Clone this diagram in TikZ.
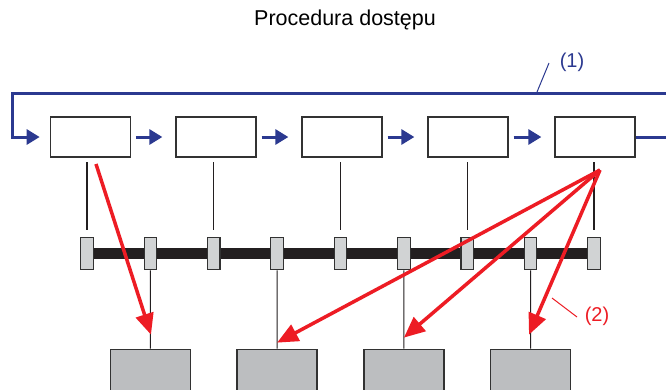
\documentclass[tikz,border=0pt]{standalone}
\usepackage{fontspec}
\setmainfont{Liberation Sans}
\usetikzlibrary{arrows.meta,calc}
\definecolor{pblue}{RGB}{43,57,144}
\definecolor{pred}{RGB}{237,28,36}
\definecolor{pbus}{RGB}{35,31,32}
\definecolor{ptap}{RGB}{209,211,212}
\definecolor{pdev}{RGB}{188,190,192}
\definecolor{pedge}{RGB}{50,50,50}
\tikzset{
  procbox/.style={draw=pedge, line width=1.3pt, fill=white, minimum width=80pt, minimum height=40pt, inner sep=0pt},
  tapbox/.style={draw=pedge, line width=1.1pt, fill=ptap, minimum width=12.5pt, minimum height=32.5pt, inner sep=0pt},
  devbox/.style={draw=pedge, line width=1.3pt, fill=pdev, minimum width=80pt, minimum height=50pt, inner sep=0pt},
  blueline/.style={draw=pblue, line width=3pt},
  bluearrow/.style={draw=pblue, line width=3pt, -{Triangle[length=13pt,width=15pt]}},
  redarrow/.style={draw=pred, line width=3.5pt, -{Triangle[length=21pt,width=18pt]}},
  thinline/.style={draw=pbus, line width=1.1pt},
  lbl/.style={font=\fontsize{20}{24}\selectfont, inner sep=0pt},
}
\begin{document}
\begin{tikzpicture}[x=1pt,y=-1pt]
\useasboundingbox (0,0) rectangle (666,389);
\clip (0,0) rectangle (666,389);
\fill[white] (0,0) rectangle (666,389);
% title
\node[font=\fontsize{21.5}{26}\selectfont, inner sep=0pt] (title) at (345,20) {Procedura dostępu};
% top boxes
\node[procbox] (b1) at (90.3,137) {};
\node[procbox] (b2) at (216,137) {};
\node[procbox] (b3) at (342,137) {};
\node[procbox] (b4) at (468,137) {};
\node[procbox] (b5) at (595,137) {};
\foreach \a/\b in {b1/b2,b2/b3,b3/b4,b4/b5}
  \draw[bluearrow] ([xshift=5pt]\a.east) -- ([xshift=-13pt]\b.west);
% feedback loop
\coordinate (rEnd) at (666,137);
\coordinate (rTop) at (666,93);
\coordinate (lTop) at (12,93);
\coordinate (lBot) at (12,137);
\draw[blueline] (b5.east) -- (rEnd);
\draw[bluearrow] (rTop) -- (lTop) -- (lBot) -- ([xshift=-10pt]b1.west);
% label (1)
\coordinate (l1a) at (537,92);
\coordinate (l1b) at (549,63);
\draw[draw=pblue, line width=1pt] (l1a) -- (l1b);
\node[lbl, text=pblue] (one) at (572,62) {(1)};
% bus and taps
\foreach \i in {1,...,9}
  \coordinate (tp\i) at ({87+63.375*(\i-1)},253.5);
\draw[draw=pbus, line width=11pt] (tp1) -- (tp9);
\foreach \i in {1,...,9}
  \node[tapbox] (t\i) at (tp\i) {};
% lines from top boxes to taps
\foreach \i in {1,3,5,7,9}
  \draw[thinline] ($(t\i.north)+(0,-7)$) -- ++(0,-68);
% bottom devices
\node[devbox] (c1) at (150.4,374.3) {};
\node[devbox] (c2) at (277.1,374.3) {};
\node[devbox] (c3) at (403.9,374.3) {};
\node[devbox] (c4) at (530.6,374.3) {};
\draw[thinline] (t2.south) -- (c1.north);
\draw[thinline] (t4.south) -- (c2.north);
\draw[thinline] (t6.south) -- (c3.north);
\draw[thinline] (t8.south) -- (c4.north);
% red arrows
\coordinate (rs1) at (96,164);
\coordinate (rs5) at (600,170);
\draw[redarrow] (rs1) -- ($(c1.north)+(0.6,-14)$);
\draw[redarrow] (rs5) -- ($(c2.north)+(0,-6)$);
\draw[redarrow] (rs5) -- ($(c3.north)+(0,-11)$);
\draw[redarrow] (rs5) -- ($(c4.north)+(-1.6,-14)$);
% label (2)
\coordinate (l2a) at (552,298);
\coordinate (l2b) at (577,317);
\draw[draw=pred, line width=1pt] (l2a) -- (l2b);
\node[lbl, text=pred] (two) at (597,316) {(2)};
\end{tikzpicture}
\end{document}
